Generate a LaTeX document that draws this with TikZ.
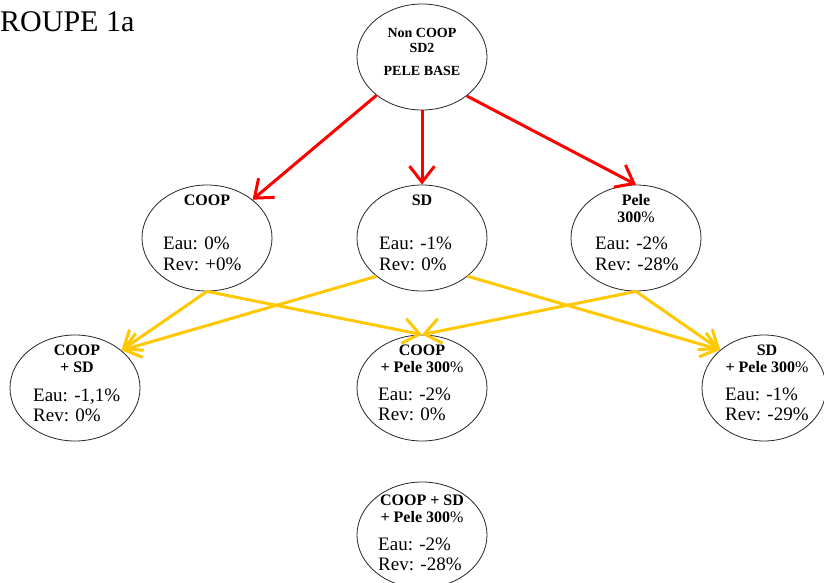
\documentclass[tikz,border=0pt]{standalone}
\usepackage{fontspec}
\setmainfont{Liberation Serif}
\usetikzlibrary{shapes.geometric,arrows.meta}
\definecolor{arrred}{RGB}{255,0,0}
\definecolor{arryel}{RGB}{255,200,0}
\begin{document}
\begin{tikzpicture}[x=1pt,y=-1pt,
  oval/.style={ellipse,draw=black!85,line width=0.8pt,minimum width=130pt,minimum height=106pt,inner sep=0pt},
  hd/.style={anchor=base,font=\fontsize{16}{16}\selectfont\bfseries,inner sep=0pt},
  hds/.style={anchor=base,font=\fontsize{14}{14}\selectfont\bfseries,inner sep=0pt},
  val/.style={anchor=base west,font=\fontsize{19}{19}\selectfont,inner sep=0pt},
  ttl/.style={anchor=base west,font=\fontsize{30}{30}\selectfont,inner sep=0pt},
  redarr/.style={draw=arrred,line width=3pt,-{Straight Barb[length=16pt,width=25pt,line width=3pt]}},
  yelarr/.style={draw=arryel,line width=3pt,-{Straight Barb[length=16pt,width=25pt,line width=3pt]}}
]
\useasboundingbox (0,0) rectangle (824,583);
\clip (0,0) rectangle (824,583);
\fill[white] (0,0) rectangle (824,583);

\node[ttl] (title) at (0,32) {ROUPE 1a};

% ellipses
\node[oval] (top) at (422,57) {};
\node[oval] (coop) at (207,238) {};
\node[oval] (sd) at (422,238) {};
\node[oval] (pele) at (636,238) {};
\node[oval] (coopsd) at (75,388) {};
\node[oval] (cooppele) at (422,388) {};
\node[oval,minimum width=124pt] (sdpele) at (764,388) {};
\node[oval] (all) at (422,535) {};

% top texts
\node[hds] (t1) at (422,38) {Non COOP};
\node[hds] (t2) at (422,53) {SD2};
\node[hds] (t3) at (422,76) {PELE BASE};

% level 2
\node[hd] (c1) at (207,205) {COOP};
\node[val] (c2) at (163,249) {Eau: 0\%};
\node[val] (c3) at (163,270) {Rev: +0\%};

\node[hd] (s1) at (422,205) {SD};
\node[val] (s2) at (379,249) {Eau: -1\%};
\node[val] (s3) at (379,270) {Rev: 0\%};

\node[hd] (p1) at (636,205) {Pele};
\node[hd] (p2) at (636,222) {300\textmd{\%}};
\node[val] (p3) at (595,249) {Eau: -2\%};
\node[val] (p4) at (595,270) {Rev: -28\%};

% level 3
\node[hd] (cs1) at (77,355) {COOP};
\node[hd] (cs2) at (77,372) {+ SD};
\node[val] (cs3) at (33,401) {Eau: -1,1\%};
\node[val] (cs4) at (33,421) {Rev: 0\%};

\node[hd] (cp1) at (422,355) {COOP};
\node[hd] (cp2) at (422,372) {+ Pele 300\textmd{\%}};
\node[val] (cp3) at (378,400) {Eau: -2\%};
\node[val] (cp4) at (378,420) {Rev: 0\%};

\node[hd] (sp1) at (767,355) {SD};
\node[hd] (sp2) at (767,372) {+ Pele 300\textmd{\%}};
\node[val] (sp3) at (725,400) {Eau: -1\%};
\node[val] (sp4) at (725,420) {Rev: -29\%};

% bottom
\node[hd] (a1) at (422,505) {COOP + SD};
\node[hd] (a2) at (422,522) {+ Pele 300\textmd{\%}};
\node[val] (a3) at (378,550) {Eau: -2\%};
\node[val] (a4) at (378,570) {Rev: -28\%};

% red arrows
\draw[redarr] (top) -- (coop);
\draw[redarr] (top.south) -- (sd.north);
\draw[redarr] (top.-41) -- (pele.north);

% yellow arrows
\draw[yelarr] (coop.south) -- (coopsd.39);
\draw[yelarr] (sd.220) -- (coopsd.39);
\draw[yelarr] (coop.south) -- (cooppele.north);
\draw[yelarr] (pele.south) -- (cooppele.north);
\draw[yelarr] (sd.-40) -- (sdpele.139);
\draw[yelarr] (pele.south) -- (sdpele.139);
\end{tikzpicture}
\end{document}
